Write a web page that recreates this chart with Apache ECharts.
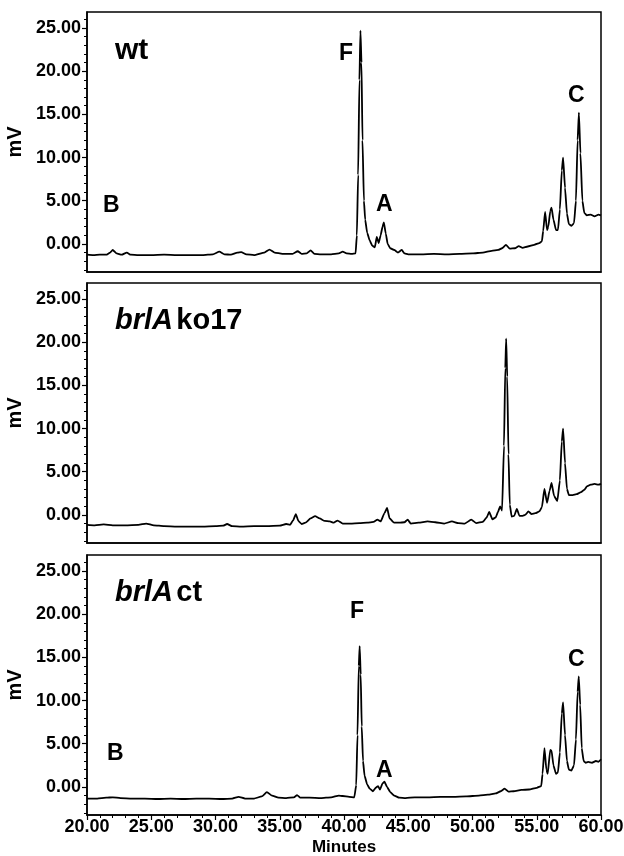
<!DOCTYPE html>
<html><head><meta charset="utf-8">
<script src="https://cdn.jsdelivr.net/npm/echarts@6/dist/echarts.min.js"></script>
<style>html,body{margin:0;padding:0;background:#fff}#c{width:624px;height:856px}</style>
</head><body><div id="c"></div>
<script>
// ---- tick labels ----
const xTicks = [20, 25, 30, 35, 40, 45, 50, 55, 60];
const yTicks = [0, 5, 10, 15, 20, 25];
const yMinorTicks = [-3, -2, -1, 1, 2, 3, 4, 6, 7, 8, 9, 11, 12, 13, 14, 16, 17, 18, 19, 21, 22, 23, 24, 26];
const panelNames = ['wt', 'brlA ko17', 'brlA ct'];

// ---- panel 1: wt ----
const wtTime = [20, 20.5, 21, 21.5, 21.8, 22.0, 22.3, 22.7, 23.1, 23.4, 24, 25, 26, 27, 28, 29, 29.8, 30.3, 30.7, 31.2, 31.7, 32.0, 32.4, 33, 33.8, 34.2, 34.6, 35.2, 36.0, 36.4, 36.7, 37.1, 37.4, 37.7, 38.2, 39, 39.6, 39.9, 40.2, 40.6, 40.9, 41.0, 41.1, 41.2, 41.28, 41.36, 41.44, 41.55, 41.65, 41.8, 42.0, 42.2, 42.4, 42.55, 42.7, 42.85, 43.0, 43.1, 43.25, 43.4, 43.6, 43.9, 44.2, 44.5, 44.7, 45, 46, 47, 48, 49, 50, 50.8, 51.5, 52.0, 52.3, 52.6, 52.9, 53.3, 53.6, 53.9, 54.3, 54.8, 55.2, 55.4, 55.5, 55.65, 55.8, 55.9, 56.05, 56.15, 56.3, 56.5, 56.65, 56.8, 56.95, 57.05, 57.2, 57.35, 57.5, 57.7, 57.9, 58.05, 58.18, 58.28, 58.4, 58.55, 58.7, 58.9, 59.2, 59.5, 59.8, 60];
const wtMv = [-1.25, -1.3, -1.25, -1.25, -1.0, -0.7, -1.1, -1.25, -1.0, -1.25, -1.3, -1.3, -1.25, -1.3, -1.3, -1.3, -1.2, -0.9, -1.2, -1.25, -1.0, -0.95, -1.2, -1.3, -1.0, -0.65, -1.0, -1.15, -1.15, -0.85, -1.15, -1.1, -0.75, -1.15, -1.2, -1.2, -1.1, -0.9, -1.1, -1.15, -1.1, 1.0, 8, 19, 24.7, 21, 12, 5, 2.8, 1.3, 0.4, -0.2, -0.4, 0.8, 0.1, 1.0, 2.0, 2.5, 1.2, 0.0, -0.5, -0.7, -1.0, -0.7, -1.1, -1.2, -1.2, -1.15, -1.2, -1.15, -1.1, -1.0, -0.8, -0.7, -0.5, -0.1, -0.55, -0.5, -0.25, -0.45, -0.3, -0.1, 0.1, 0.3, 1.5, 3.7, 1.6, 2.0, 3.8, 4.2, 2.8, 1.6, 1.6, 4.0, 8.5, 10.0, 6.5, 3.5, 2.3, 2.1, 2.4, 5.0, 12.0, 15.2, 10.5, 5.0, 3.6, 3.3, 3.4, 3.2, 3.4, 3.3];

// ---- panel 2: brlA ko17 ----
const koTime = [20, 20.6, 21.3, 22, 23, 24, 24.6, 25.2, 26, 27, 28, 29, 30, 30.6, 30.9, 31.3, 32, 33, 34, 35, 35.5, 35.8, 36.05, 36.25, 36.45, 36.7, 37.0, 37.4, 37.75, 38.1, 38.5, 38.9, 39.2, 39.5, 39.9, 40.5, 41.2, 41.8, 42.3, 42.6, 42.85, 43.15, 43.35, 43.55, 43.9, 44.3, 44.7, 44.95, 45.2, 45.8, 46.5, 47.1, 47.8, 48.4, 48.9, 49.4, 49.9, 50.3, 50.8, 51.1, 51.3, 51.55, 51.8, 52.0, 52.15, 52.3, 52.45, 52.55, 52.62, 52.7, 52.8, 52.9, 53.05, 53.25, 53.45, 53.65, 53.9, 54.1, 54.35, 54.6, 54.9, 55.2, 55.4, 55.6, 55.8, 56.0, 56.15, 56.35, 56.6, 56.8, 56.95, 57.05, 57.2, 57.35, 57.5, 57.8, 58.1, 58.4, 58.7, 58.9, 59.2, 59.5, 59.8, 60];
const koMv = [-1.15, -1.2, -1.1, -1.2, -1.2, -1.15, -1.0, -1.2, -1.3, -1.35, -1.35, -1.35, -1.3, -1.25, -1.05, -1.3, -1.35, -1.3, -1.3, -1.25, -1.05, -1.15, -0.6, 0.1, -0.7, -1.05, -0.9, -0.4, -0.15, -0.4, -0.7, -0.75, -0.9, -0.65, -1.0, -1.0, -0.95, -0.9, -0.8, -0.55, -0.75, 0.2, 0.8, -0.4, -0.9, -0.9, -0.85, -0.55, -1.0, -0.9, -0.75, -0.85, -1.0, -0.75, -0.95, -1.0, -0.55, -0.95, -0.8, -0.3, 0.35, -0.5, -0.3, 0.4, 1.0, 0.5, 8, 17, 20.4, 16, 7, 1.2, -0.2, -0.1, 0.7, -0.1, -0.1, 0.0, 0.4, 0.1, 0.2, 0.4, 0.9, 3.0, 1.4, 2.8, 3.7, 2.2, 1.6, 4.0, 8.5, 10.0, 6.0, 3.0, 2.3, 2.3, 2.4, 2.6, 2.9, 3.3, 3.5, 3.6, 3.5, 3.6];

// ---- panel 3: brlA ct ----
const ctTime = [20, 20.8, 21.5, 22, 22.6, 23.5, 24.5, 25.5, 26.5, 27.5, 28.5, 29.5, 30.5, 31.3, 31.8, 32.3, 33.0, 33.6, 34.0, 34.4, 34.9, 35.5, 36.1, 36.35, 36.6, 37.3, 38.2, 39.0, 39.6, 39.9, 40.4, 40.8, 40.95, 41.05, 41.15, 41.22, 41.3, 41.38, 41.48, 41.6, 41.8, 42.0, 42.25, 42.5, 42.65, 42.8, 43.0, 43.15, 43.35, 43.6, 43.9, 44.3, 44.8, 45.5, 46.5, 47.5, 48.5, 49.5, 50.5, 51.2, 51.8, 52.2, 52.5, 52.8, 53.2, 53.8, 54.4, 55.0, 55.35, 55.45, 55.6, 55.75, 55.85, 56.05, 56.15, 56.3, 56.5, 56.65, 56.8, 56.95, 57.05, 57.2, 57.35, 57.5, 57.7, 57.9, 58.05, 58.18, 58.27, 58.38, 58.5, 58.65, 58.8, 59.0, 59.3, 59.6, 59.8, 60];
const ctMv = [-1.35, -1.35, -1.25, -1.2, -1.3, -1.35, -1.35, -1.4, -1.35, -1.4, -1.35, -1.35, -1.4, -1.35, -1.15, -1.35, -1.35, -1.1, -0.6, -1.0, -1.25, -1.3, -1.2, -0.95, -1.25, -1.25, -1.3, -1.2, -1.0, -1.05, -1.15, -1.2, 0.2, 6, 14, 16.3, 13, 7, 3.0, 1.3, 0.3, -0.2, -0.5, -0.05, 0.1, -0.3, 0.4, 0.6, 0.0, -0.6, -1.0, -1.25, -1.3, -1.2, -1.2, -1.15, -1.15, -1.1, -1.0, -0.9, -0.75, -0.5, -0.2, -0.55, -0.5, -0.35, -0.3, -0.1, 0.1, 1.5, 4.5, 2.0, 1.5, 4.3, 4.2, 2.5, 1.5, 1.7, 4.0, 8.5, 9.8, 6.0, 3.0, 2.0, 1.9, 2.5, 5.5, 11.0, 12.8, 9.5, 4.5, 3.0, 2.8, 2.9, 2.8, 3.0, 2.9, 3.2];

const panels = [[wtTime, wtMv], [koTime, koMv], [ctTime, ctMv]];
const tops = [12, 283, 555];
const H = 260;
const FONT = 'Liberation Sans, Arial, sans-serif';

const grid = [], xAxis = [], yAxis = [], series = [];
panels.forEach((p, i) => {
  grid.push({left: 87, right: 23, top: tops[i], height: H, show: true, borderColor: '#000', borderWidth: 1.5, backgroundColor: 'transparent', containLabel: false, outerBoundsMode: 'none'});
  const last = i === 2;
  xAxis.push({
    type: 'value', gridIndex: i, min: 20, max: 60, interval: 5,
    axisLine: {show: true, onZero: false, lineStyle: {color: '#000', width: 1.5}},
    axisTick: {show: last, length: 5, lineStyle: {color: '#000', width: 1.2}},
    minorTick: {show: last, splitNumber: 5, length: 3, lineStyle: {color: '#000', width: 1}},
    axisLabel: {show: last, formatter: v => v.toFixed(2), color: '#000', fontFamily: FONT, fontWeight: 'bold', fontSize: 18, margin: 3},
    splitLine: {show: false},
    name: last ? 'Minutes' : '', nameLocation: 'middle', nameGap: 24,
    nameTextStyle: {color: '#000', fontFamily: FONT, fontWeight: 'bold', fontSize: 17}
  });
  yAxis.push({
    type: 'value', gridIndex: i, min: -3.25, max: 26.85,
    axisLine: {show: true, onZero: false, lineStyle: {color: '#000', width: 1.5}},
    axisTick: {show: true, length: 5, customValues: yTicks, lineStyle: {color: '#000', width: 1.2}},
    axisLabel: {show: true, customValues: yTicks, formatter: v => Number(v).toFixed(2), color: '#000', fontFamily: FONT, fontWeight: 'bold', fontSize: 18, margin: 6},
    splitLine: {show: false},
    name: 'mV', nameLocation: 'middle', nameGap: 48, nameRotate: 90,
    nameTextStyle: {color: '#000', fontFamily: FONT, fontWeight: 'bold', fontSize: 20}
  });
  yAxis.push({
    type: 'value', gridIndex: i, min: -3.25, max: 26.85, position: 'left',
    axisLine: {show: false, onZero: false},
    axisTick: {show: true, length: 3, customValues: yMinorTicks, lineStyle: {color: '#000', width: 1}},
    axisLabel: {show: false}, splitLine: {show: false}
  });
  series.push({
    type: 'line', xAxisIndex: i, yAxisIndex: 2 * i,
    data: p[0].map((t, k) => [t, p[1][k]]),
    showSymbol: false, symbol: 'none',
    lineStyle: {color: '#000', width: 1.8}, smooth: 0.15, smoothMonotone: 'x'
  });
});

const bold = (txt, x, y, size) => ({type: 'text', left: x, top: y, style: {text: txt, fill: '#000', font: 'bold ' + size + 'px ' + FONT}});
const graphic = [
  bold('wt', 115, 36, 30),
  {type: 'text', left: 115, top: 306, style: {text: '{i|brlA} {b|ko17}', fill: '#000',
    rich: {i: {fontStyle: 'italic', fontWeight: 'bold', fontSize: 29, fontFamily: FONT, fill: '#000'},
           b: {fontWeight: 'bold', fontSize: 29, fontFamily: FONT, fill: '#000'}}}},
  {type: 'text', left: 115, top: 578, style: {text: '{i|brlA} {b|ct}', fill: '#000',
    rich: {i: {fontStyle: 'italic', fontWeight: 'bold', fontSize: 29, fontFamily: FONT, fill: '#000'},
           b: {fontWeight: 'bold', fontSize: 29, fontFamily: FONT, fill: '#000'}}}},
  bold('F', 339, 42, 23),
  bold('A', 376, 193, 23),
  bold('B', 103, 194, 23),
  bold('C', 568, 84, 23),
  bold('F', 350, 600, 23),
  bold('A', 376, 759, 23),
  bold('B', 107, 742, 23),
  bold('C', 568, 648, 23)
];

const chart = echarts.init(document.getElementById('c'), null, {renderer: 'canvas'});
chart.setOption({animation: false, backgroundColor: '#fff', grid, xAxis, yAxis, series, graphic});
</script></body></html>
